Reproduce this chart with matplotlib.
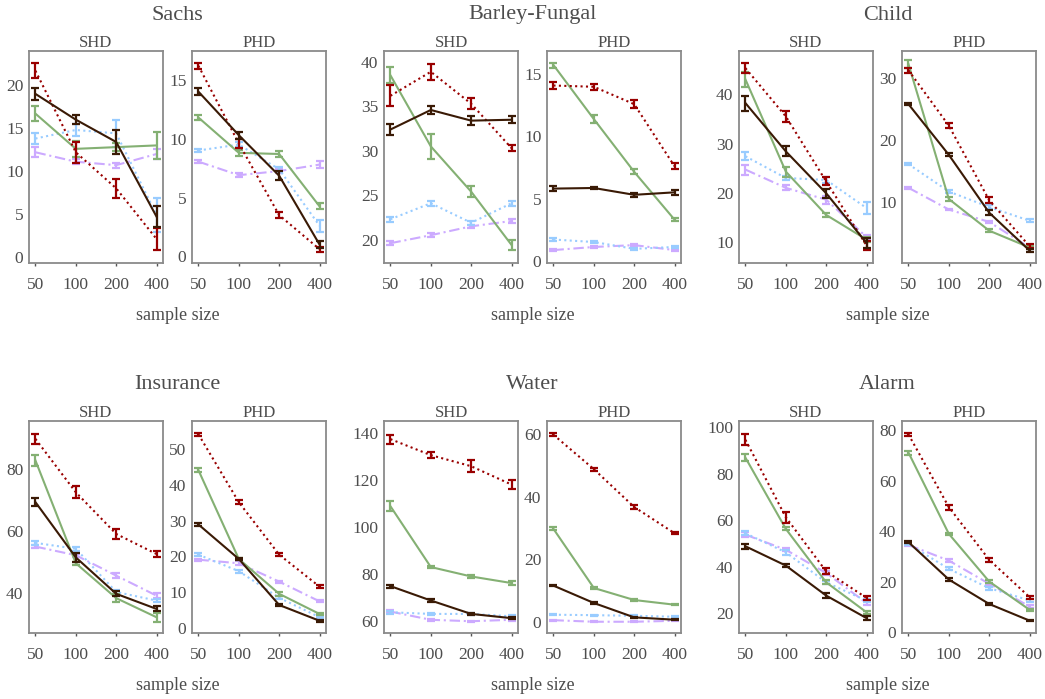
import matplotlib.pyplot as plt

plt.rcParams['font.family'] = ['Liberation Serif', 'DejaVu Serif']

sizes = ['50', '100', '200', '400']

# rows in every block: red (dotted), brown, green, blue (dotted), lavender (dash-dot)
sachs_shd = [[21.7, 12.2, 8.0, 2.1], [19.0, 16.0, 13.4, 4.7], [16.7, 12.6, 12.8, 13.0],
             [13.8, 14.8, 14.4, 4.9], [12.2, 11.1, 10.7, 12.0]]
sachs_shd_err = [[0.9, 1.2, 1.1, 1.25], [0.7, 0.55, 1.45, 1.2], [0.9, 0.9, 0.5, 1.6],
                 [0.65, 0.7, 1.55, 2.0], [0.6, 0.3, 0.3, 0.6]]
sachs_phd = [[16.2, 9.6, 3.5, 0.6], [14.0, 10.3, 6.85, 1.0], [11.8, 8.8, 8.7, 4.25],
             [9.0, 9.5, 7.4, 2.6], [8.05, 6.9, 7.25, 7.8]]
sachs_phd_err = [[0.25, 0.4, 0.25, 0.2], [0.3, 0.3, 0.4, 0.3], [0.25, 0.25, 0.25, 0.25],
                 [0.15, 0.2, 0.2, 0.5], [0.15, 0.15, 0.15, 0.3]]

barley_shd = [[36.2, 38.9, 35.3, 30.3], [32.4, 34.6, 33.4, 33.5], [38.5, 30.5, 25.4, 19.4],
              [22.3, 24.1, 21.9, 24.1], [19.6, 20.5, 21.5, 22.1]]
barley_shd_err = [[1.2, 0.9, 0.6, 0.3], [0.6, 0.45, 0.5, 0.4], [0.9, 1.4, 0.6, 0.6],
                  [0.3, 0.3, 0.2, 0.3], [0.2, 0.2, 0.2, 0.25]]
barley_phd = [[14.1, 14.0, 12.6, 7.6], [5.8, 5.85, 5.3, 5.5], [15.75, 11.4, 7.15, 3.3],
              [1.7, 1.5, 0.95, 1.1], [0.85, 1.1, 1.25, 0.85]]
barley_phd_err = [[0.25, 0.25, 0.3, 0.25], [0.2, 0.1, 0.15, 0.2], [0.2, 0.35, 0.2, 0.1],
                  [0.1, 0.1, 0.1, 0.1], [0.1, 0.1, 0.1, 0.1]]

child_shd = [[45.3, 35.5, 22.3, 9.3], [38.2, 28.4, 19.9, 9.8], [43.0, 24.3, 15.5, 10.5],
             [27.4, 23.0, 22.6, 16.9], [24.7, 21.0, 18.6, 11.0]]
child_shd_err = [[1.0, 1.2, 0.8, 0.9], [1.5, 1.0, 0.9, 1.0], [1.5, 1.0, 0.4, 0.5],
                 [0.8, 0.5, 0.6, 1.3], [1.0, 0.5, 0.8, 0.5]]
child_phd = [[31.2, 22.3, 10.3, 2.9], [25.75, 17.6, 8.3, 2.2], [32.2, 10.5, 5.4, 2.7],
             [16.1, 11.7, 9.2, 7.0], [12.3, 8.8, 6.8, 2.7]]
child_phd_err = [[0.4, 0.35, 0.5, 0.3], [0.2, 0.25, 0.35, 0.2], [0.6, 0.3, 0.2, 0.2],
                 [0.2, 0.3, 0.3, 0.2], [0.2, 0.15, 0.2, 0.2]]

insurance_shd = [[89.9, 72.6, 59.1, 52.6], [69.4, 51.5, 39.7, 34.8], [82.9, 49.6, 38.3, 32.1],
                 [56.2, 54.3, 40.3, 37.5], [55.0, 52.2, 45.6, 39.1]]
insurance_shd_err = [[1.5, 2.0, 1.5, 0.9], [1.3, 1.5, 0.8, 0.8], [1.7, 0.5, 1.3, 1.5],
                     [0.6, 0.7, 0.6, 0.6], [0.5, 0.5, 0.7, 0.8]]
insurance_phd = [[54.0, 35.1, 20.5, 11.6], [28.9, 19.3, 6.5, 2.1], [44.0, 19.3, 9.6, 4.0],
                 [20.5, 15.9, 8.5, 3.1], [19.1, 18.1, 13.0, 7.5]]
insurance_phd_err = [[0.4, 0.6, 0.5, 0.5], [0.3, 0.3, 0.2, 0.2], [0.5, 0.3, 0.5, 0.3],
                     [0.4, 0.4, 0.4, 0.3], [0.3, 0.5, 0.3, 0.3]]

water_shd = [[137.3, 130.5, 125.8, 118.0], [74.9, 68.8, 63.1, 61.3], [108.8, 83.0, 79.0, 76.2],
             [63.8, 63.1, 63.1, 62.1], [64.1, 60.6, 60.0, 60.6]]
water_shd_err = [[1.9, 1.3, 2.6, 1.9], [0.6, 0.8, 0.6, 0.4], [2.2, 0.6, 0.7, 0.8],
                 [0.6, 0.5, 0.3, 0.4], [0.5, 0.3, 0.3, 0.3]]
water_phd = [[59.8, 48.8, 36.7, 28.3], [11.55, 6.0, 1.4, 0.65], [29.7, 10.8, 6.95, 5.45],
             [2.25, 2.1, 1.9, 1.6], [0.5, 0.0, 0.0, 0.3]]
water_phd_err = [[0.5, 0.5, 0.5, 0.3], [0.2, 0.2, 0.2, 0.15], [0.5, 0.3, 0.2, 0.2],
                 [0.2, 0.2, 0.2, 0.2], [0.2, 0.15, 0.15, 0.15]]

alarm_shd = [[94.5, 61.2, 37.9, 26.5], [48.7, 40.4, 27.5, 17.8], [86.8, 56.2, 33.2, 20.3],
             [54.3, 46.1, 33.2, 25.3], [53.7, 47.2, 37.2, 24.3]]
alarm_shd_err = [[2.3, 2.3, 1.3, 0.7], [1.1, 0.8, 1.0, 0.9], [1.5, 0.7, 0.8, 0.7],
                 [0.8, 1.2, 0.7, 0.7], [1.0, 0.7, 0.7, 1.0]]
alarm_phd = [[78.4, 49.6, 28.7, 13.9], [35.7, 20.9, 11.2, 4.6], [71.2, 39.0, 20.1, 8.9],
             [35.0, 25.1, 17.5, 12.6], [34.6, 28.4, 19.2, 10.2]]
alarm_phd_err = [[0.6, 1.0, 0.8, 0.6], [0.5, 0.4, 0.3, 0.3], [0.8, 0.4, 0.6, 0.4],
                 [0.4, 0.6, 0.6, 0.6], [0.5, 0.5, 0.4, 0.5]]

colors = ['#990000', '#3a1a05', '#84b073', '#99ccff', '#ccaaff']
styles = [(0, (1, 1.6)), '-', '-', (0, (1, 1.6)), (0, (5, 1.8, 1, 1.8))]
draw_order = [4, 3, 2, 0, 1]

# (title, shd, shd_err, phd, phd_err, shd ylim, shd ticks, phd ylim, phd ticks)
panels = [
    ('Sachs', sachs_shd, sachs_shd_err, sachs_phd, sachs_phd_err,
     (-0.7, 24.0), range(0, 21, 5), (-0.57, 17.46), range(0, 16, 5)),
    ('Barley-Fungal', barley_shd, barley_shd_err, barley_phd, barley_phd_err,
     (17.37, 41.24), range(20, 41, 5), (-0.19, 16.88), range(0, 16, 5)),
    ('Child', child_shd, child_shd_err, child_phd, child_phd_err,
     (5.74, 48.78), range(10, 41, 10), (0.2, 34.3), range(10, 31, 10)),
    ('Insurance', insurance_shd, insurance_shd_err, insurance_phd, insurance_phd_err,
     (27.0, 95.7), range(40, 81, 20), (-1.3, 57.7), range(0, 51, 10)),
    ('Water', water_shd, water_shd_err, water_phd, water_phd_err,
     (55.0, 145.0), range(60, 141, 20), (-3.6, 64.2), range(0, 61, 20)),
    ('Alarm', alarm_shd, alarm_shd_err, alarm_phd, alarm_phd_err,
     (11.4, 102.6), range(20, 101, 20), (-0.3, 83.7), range(0, 81, 20)),
]

W, H = 1045, 699
text_gray = '#4d4d4d'
frame_gray = '#8a8a8a'

fig = plt.figure(figsize=(W / 100, H / 100), dpi=100)

col_left = [29, 384, 739]
row_top = [51, 421]
ax_w, ax_h = 134, 212
gap = 163

for k, (title, shd, shd_err, phd, phd_err, ylim1, ticks1, ylim2, ticks2) in enumerate(panels):
    r, c = divmod(k, 3)
    x0 = col_left[c]
    top = row_top[r]
    for j, (vals, errs, ylim, ticks, sub) in enumerate([(shd, shd_err, ylim1, ticks1, 'SHD'),
                                                         (phd, phd_err, ylim2, ticks2, 'PHD')]):
        left = x0 + j * gap
        ax = fig.add_axes([left / W, 1 - (top + ax_h) / H, ax_w / W, ax_h / H])
        xs = range(len(sizes))
        for z, m in enumerate(draw_order):
            ax.errorbar(xs, vals[m], yerr=errs[m], color=colors[m], linestyle=styles[m],
                        linewidth=1.5, elinewidth=1.6, capsize=3, capthick=1.6, zorder=2 + z)
        ax.set_xlim(-0.16, 3.16)
        ax.set_ylim(*ylim)
        ax.set_xticks(list(xs))
        ax.set_xticklabels(sizes)
        ax.set_yticks(list(ticks))
        ax.tick_params(colors='#555555', labelcolor=text_gray, labelsize=12.5, width=1.0)
        ax.tick_params(axis='x', length=2, pad=8)
        ax.tick_params(axis='y', length=0, pad=4)
        for s in ax.spines.values():
            s.set_color(frame_gray)
            s.set_linewidth(1.3)
        ax.set_title(sub, fontsize=12, color=text_gray, pad=3)
    cx = (x0 + x0 + gap + ax_w) / 2
    fig.text(cx / W, 1 - (top - 36) / H, title, ha='center', va='center', fontsize=16, color=text_gray)
    fig.text(cx / W, 1 - (top + 264) / H, 'sample size', ha='center', va='center', fontsize=13, color=text_gray)

fig.savefig('out.png', dpi=100)
